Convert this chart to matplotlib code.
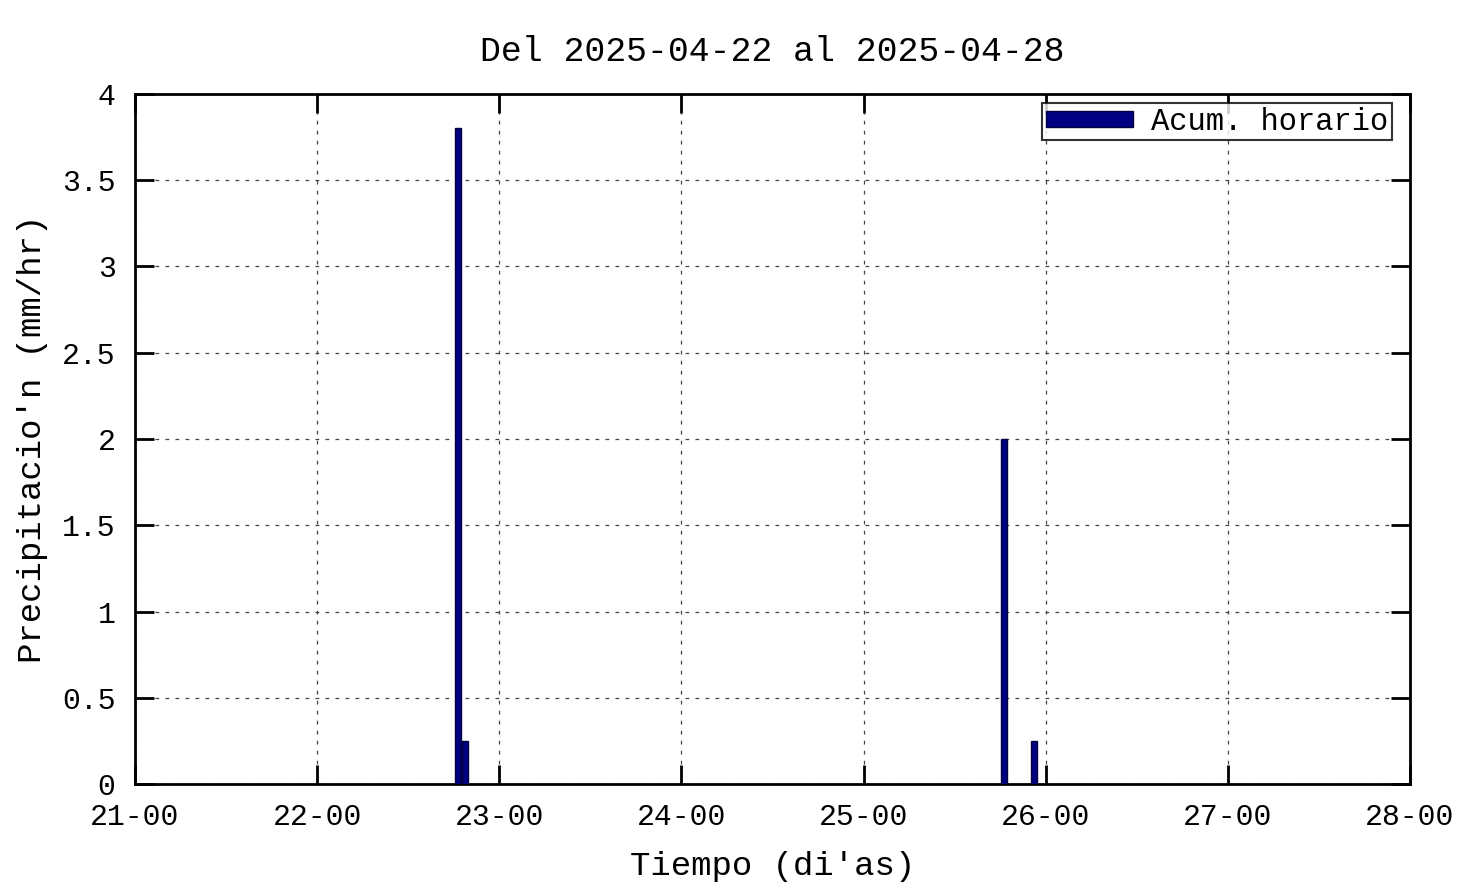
import matplotlib.pyplot as plt
import numpy as np

# --- DATA ---
# hourly bars, x in days of the month (day + hour/24)
rain_day = [22.0, 22.0, 25.0, 25.0]
rain_hour = [18.5, 19.5, 18.5, 22.5]
rain_mm = [3.8, 0.25, 2.0, 0.25]

x_ticks = [21, 22, 23, 24, 25, 26, 27, 28]
x_labels = ["21-00", "22-00", "23-00", "24-00", "25-00", "26-00", "27-00", "28-00"]
y_ticks = [0, 0.5, 1, 1.5, 2, 2.5, 3, 3.5, 4]
y_labels = ["0", "0.5", "1", "1.5", "2", "2.5", "3", "3.5", "4"]

FONT = "Liberation Mono"
plt.rcParams["font.family"] = FONT

fig = plt.figure(figsize=(14.76, 8.85), dpi=100)
ax = fig.add_axes([0.0915, 0.1141, 0.8638, 0.7797])

x = np.array(rain_day) + np.array(rain_hour) / 24.0
ax.bar(x, rain_mm, width=0.8 / 24, color="#000080", edgecolor="#000040",
       linewidth=1, label="Acum. horario", zorder=3)

ax.set_xlim(21, 28)
ax.set_ylim(0, 4)
ax.set_xticks(x_ticks)
ax.set_xticklabels(x_labels)
ax.set_yticks(y_ticks)
ax.set_yticklabels(y_labels)

ax.tick_params(direction="in", length=14, width=2, top=True, right=True,
               labelsize=21.5, pad=14)
for s in ax.spines.values():
    s.set_linewidth(2)

ax.grid(True, color="#444444", linestyle=(0, (3, 5)), linewidth=0.9, zorder=0)

ax.set_title("Del 2025-04-22 al 2025-04-28", fontsize=25, pad=24)
ax.set_xlabel("Tiempo (di'as)", fontsize=24.5, labelpad=14)
ax.set_ylabel("Precipitacio'n (mm/hr)", fontsize=24.5, labelpad=10)

leg = ax.legend(loc="upper right", fontsize=22, frameon=True, fancybox=False,
                handlelength=2.85, handleheight=0.45, borderpad=0.12,
                handletextpad=0.6, borderaxespad=0,
                bbox_to_anchor=(1392 / 1476, 1 - 103 / 885),
                bbox_transform=fig.transFigure)
leg.get_frame().set_edgecolor("black")
leg.get_frame().set_linewidth(1.5)

fig.savefig("out.png", dpi=100)
